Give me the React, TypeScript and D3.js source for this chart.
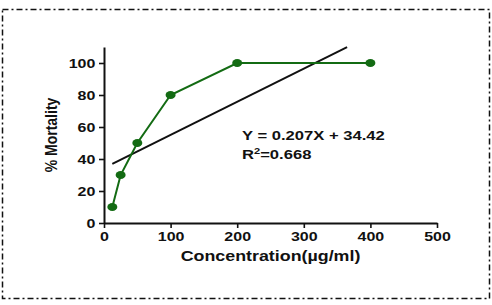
import { useEffect, useRef } from "react";
import * as d3 from "d3";

const concentrations = [12.5, 25, 50, 100, 200, 400];
const mortality = [10, 30, 50, 80, 100, 100];
const xTicks = [0, 100, 200, 300, 400, 500];
const yTicks = [0, 20, 40, 60, 80, 100];
const slope = 0.207;
const intercept = 34.42;
const fitRange = [12.5, 365];

export default function App() {
  const svgRef = useRef<SVGSVGElement>(null);

  useEffect(() => {
    if (!svgRef.current) return;
    const svg = d3.select(svgRef.current);
    svg.selectAll("*").remove();

    const font = "'Liberation Sans', Arial, Helvetica, sans-serif";
    const green = "#136b13";
    const sx = 1.23; // the original picture is stretched sideways

    // dash-dot frame
    svg
      .append("rect")
      .attr("x", 2.5)
      .attr("y", 9.5)
      .attr("width", 487)
      .attr("height", 289)
      .attr("fill", "none")
      .attr("stroke", "#111")
      .attr("stroke-width", 1.5)
      .attr("stroke-dasharray", "6,3,2,3");

    const x = d3.scaleLinear().domain([0, 500]).range([104, 437]);
    const y = d3.scaleLinear().domain([0, 110]).range([223, 47]);

    const xAxis = svg
      .append("g")
      .attr("transform", `translate(0,${y(0)})`)
      .call(d3.axisBottom(x).tickValues(xTicks).tickSize(5).tickSizeOuter(0).tickPadding(4));
    const yAxis = svg
      .append("g")
      .attr("transform", `translate(${x(0)},0)`)
      .call(d3.axisLeft(y).tickValues(yTicks).tickSize(5).tickSizeOuter(0).tickPadding(2));

    [xAxis, yAxis].forEach((g) => {
      g.select(".domain").attr("stroke", "#111").attr("stroke-width", 2);
      g.selectAll(".tick line").attr("stroke", "#111").attr("stroke-width", 1.6);
      g.selectAll(".tick text")
        .attr("fill", "#111")
        .attr("font-family", font)
        .attr("font-weight", "bold")
        .attr("font-size", 13)
        .attr("transform", `scale(${sx},1)`);
    });

    // regression line
    const fit = d3
      .line<number>()
      .x((d) => x(d))
      .y((d) => y(slope * d + intercept));
    svg
      .append("path")
      .attr("d", fit(fitRange))
      .attr("fill", "none")
      .attr("stroke", "#111")
      .attr("stroke-width", 2);

    const pts = concentrations.map((c, i) => [c, mortality[i]] as [number, number]);
    const line = d3
      .line<[number, number]>()
      .x((d) => x(d[0]))
      .y((d) => y(d[1]));
    svg
      .append("path")
      .attr("d", line(pts))
      .attr("fill", "none")
      .attr("stroke", green)
      .attr("stroke-width", 2);

    svg
      .selectAll("ellipse.pt")
      .data(pts)
      .enter()
      .append("ellipse")
      .attr("class", "pt")
      .attr("cx", (d) => x(d[0]))
      .attr("cy", (d) => y(d[1]))
      .attr("rx", 5)
      .attr("ry", 4)
      .attr("fill", green);

    // equation
    const eq = svg
      .append("g")
      .attr("transform", `translate(242,0) scale(${sx},1)`)
      .attr("font-family", font)
      .attr("font-weight", "bold")
      .attr("font-size", 13.5)
      .attr("fill", "#111");
    eq.append("text").attr("x", 0).attr("y", 140).text("Y = 0.207X + 34.42");
    const r2 = eq.append("text").attr("x", 0).attr("y", 159);
    r2.append("tspan").text("R");
    r2.append("tspan").attr("dy", -5).attr("font-size", 9).text("2");
    r2.append("tspan").attr("dy", 5).text("=0.668");

    svg
      .append("g")
      .attr("transform", `translate(${(x(0) + x(500)) / 2},261) scale(${sx},1)`)
      .append("text")
      .attr("text-anchor", "middle")
      .attr("font-family", font)
      .attr("font-weight", "bold")
      .attr("font-size", 14.5)
      .attr("fill", "#111")
      .text("Concentration(\u00b5g/ml)");

    svg
      .append("text")
      .attr("transform", `translate(57,${y(55)}) scale(${sx},1) rotate(-90)`)
      .attr("text-anchor", "middle")
      .attr("font-family", font)
      .attr("font-weight", "bold")
      .attr("font-size", 14)
      .attr("fill", "#111")
      .text("% Mortality");
  }, []);

  return (
    <svg
      ref={svgRef}
      width={492}
      height={305}
      style={{ position: "absolute", left: 0, top: 0, background: "#fff" }}
    />
  );
}
